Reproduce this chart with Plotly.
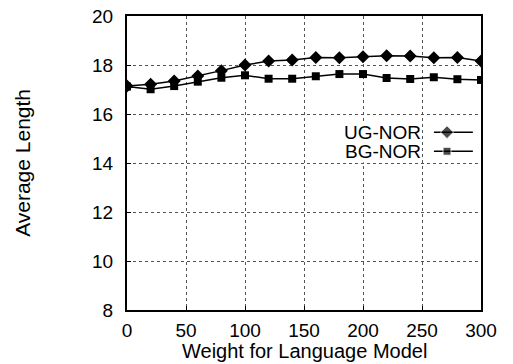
import plotly.graph_objects as go

weights = [0, 20, 40, 60, 80, 100, 120, 140, 160, 180, 200, 220, 240, 260, 280, 300]
ug_nor = [17.14, 17.21, 17.35, 17.55, 17.77, 18.0, 18.16, 18.2, 18.31, 18.3, 18.34, 18.38, 18.37, 18.3, 18.31, 18.16]
bg_nor = [17.12, 17.01, 17.14, 17.32, 17.48, 17.58, 17.44, 17.44, 17.54, 17.63, 17.63, 17.47, 17.43, 17.5, 17.42, 17.39]
series_names = ["UG-NOR", "BG-NOR"]
x_ticks = [0, 50, 100, 150, 200, 250, 300]
y_ticks = [8, 10, 12, 14, 16, 18, 20]
x_title = "Weight for Language Model"
y_title = "Average Length"

FONT = "Liberation Sans, Arial, Helvetica, sans-serif"

fig = go.Figure()
fig.add_trace(go.Scatter(x=weights, y=ug_nor, mode="lines+markers", name=series_names[0],
                         line=dict(color="black", width=1.5),
                         marker=dict(symbol="diamond", size=10, color="black"),
                         showlegend=False))
fig.add_trace(go.Scatter(x=weights, y=bg_nor, mode="lines+markers", name=series_names[1],
                         line=dict(color="black", width=1.5),
                         marker=dict(symbol="square", size=8, color="black"),
                         showlegend=False))

# custom legend (text left of the sample, as in the reference)
leg_rows = [(0.605, "diamond", 10), (0.540, "square", 8)]
for (yy, sym, sz), name in zip(leg_rows, series_names):
    fig.add_trace(go.Scatter(x=[0.867, 0.904, 0.977], y=[yy, yy, yy], xaxis="x2", yaxis="y2",
                             mode="lines+markers", line=dict(color="black", width=1.5),
                             marker=dict(symbol=sym, size=[0, sz, 0], color="black"),
                             hoverinfo="skip", showlegend=False))
    fig.add_annotation(x=0.833, y=yy, xref="paper", yref="paper", text=name, showarrow=False,
                       xanchor="right", yanchor="middle", bgcolor="white", borderpad=0,
                       font=dict(size=19, color="black", family=FONT))

fig.add_annotation(x=0.5, y=-0.14, xref="paper", yref="paper", text=x_title, showarrow=False,
                   xanchor="center", yanchor="middle", font=dict(size=20, color="black", family=FONT))
fig.add_annotation(x=-0.297, y=0.5, xref="paper", yref="paper", text=y_title, showarrow=False,
                   textangle=-90, xanchor="center", yanchor="middle",
                   font=dict(size=21, color="black", family=FONT))

axis_common = dict(showline=True, linecolor="black", linewidth=2, mirror=True,
                   showgrid=True, gridcolor="#555555", griddash="dot", gridwidth=1,
                   ticks="inside", ticklen=4, tickcolor="black", zeroline=False, automargin=False,
                   ticklabeloverflow="allow",
                   tickfont=dict(size=19, color="black", family=FONT))

# the page body adds an 8px offset, so the figure is 8px smaller and margins shifted
fig.update_layout(
    width=505, height=356,
    margin=dict(l=119, r=32, t=8, b=54),
    paper_bgcolor="white", plot_bgcolor="white",
    font=dict(family=FONT, color="black"),
    xaxis=dict(range=[0, 300], tickvals=x_ticks, ticklabelstandoff=2, **axis_common),
    yaxis=dict(range=[8, 20], tickvals=y_ticks, ticklabelstandoff=8, **axis_common),
    xaxis2=dict(range=[0, 1], overlaying="x", visible=False, domain=[0, 1]),
    yaxis2=dict(range=[0, 1], overlaying="y", visible=False),
)

fig.write_html("out.html")
